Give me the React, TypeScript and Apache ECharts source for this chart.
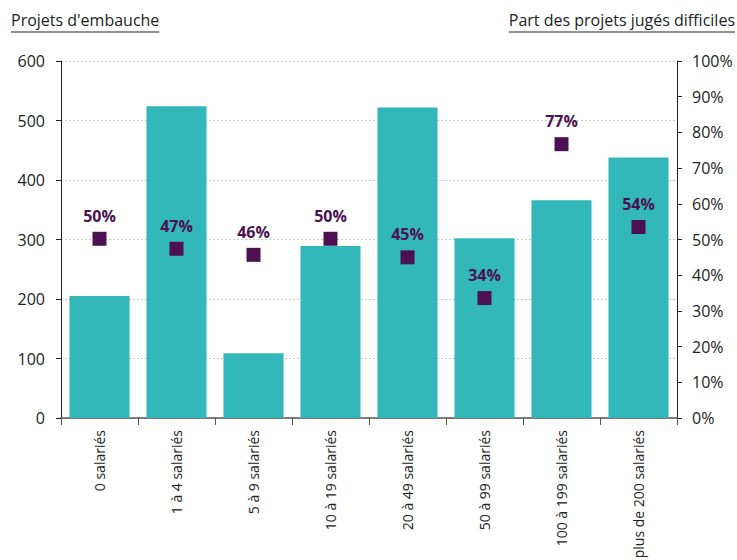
import React, { useEffect, useRef } from "react";
import * as echarts from "echarts";

const categories = [
  "0 salariés",
  "1 à 4 salariés",
  "5 à 9 salariés",
  "10 à 19 salariés",
  "20 à 49 salariés",
  "50 à 99 salariés",
  "100 à 199 salariés",
  "plus de 200 salariés",
];
const projets = [205, 524, 109, 289, 522, 302, 366, 438];
const partDifficiles = [50.2, 47.4, 45.7, 50.2, 45.0, 33.6, 76.7, 53.5];
const leftTitle = "Projets d'embauche";
const rightTitle = "Part des projets jugés difficiles";

const FONT = "'Open Sans', 'Noto Sans', sans-serif";

function measure(text: string, font: string): number {
  const c = document.createElement("canvas");
  const ctx = c.getContext("2d");
  if (!ctx) return text.length * 8;
  ctx.font = font;
  return ctx.measureText(text).width;
}

export default function App() {
  const ref = useRef<HTMLDivElement>(null);
  useEffect(() => {
    document.body.style.margin = "0";
    document.body.style.overflow = "hidden";
    if (!ref.current) return;
    const chart = echarts.init(ref.current, undefined, { renderer: "svg" });
    const titleSize = 16;
    const titleFont = `${titleSize}px ${FONT}`;
    const wl = measure(leftTitle, titleFont);
    const wr = measure(rightTitle, titleFont);
    const rightX = 735;
    const underlineY = 32;
    chart.setOption({
      animation: false,
      grid: {
        left: 61,
        right: 60,
        top: 61,
        bottom: 142,
        containLabel: false,
        outerBoundsMode: "none",
      },
      graphic: [
        {
          type: "text",
          x: 11,
          y: 12,
          style: { text: leftTitle, font: titleFont, fill: "#222", textAlign: "left", textVerticalAlign: "top" },
        },
        {
          type: "line",
          shape: { x1: 11, y1: underlineY, x2: 11 + wl, y2: underlineY },
          style: { stroke: "#222", lineWidth: 1 },
        },
        {
          type: "text",
          x: rightX - wr,
          y: 12,
          style: { text: rightTitle, font: titleFont, fill: "#222", textAlign: "left", textVerticalAlign: "top" },
        },
        {
          type: "line",
          shape: { x1: rightX - wr, y1: underlineY, x2: rightX, y2: underlineY },
          style: { stroke: "#222", lineWidth: 1 },
        },
      ],
      xAxis: {
        type: "category",
        data: categories,
        boundaryGap: true,
        axisLine: { lineStyle: { color: "#555", width: 1.5 } },
        axisTick: { show: true, length: 7, lineStyle: { color: "#555" } },
        axisLabel: {
          rotate: 90,
          interval: 0,
          margin: 12,
          fontSize: 14,
          color: "#222",
          fontFamily: FONT,
        },
      },
      yAxis: [
        {
          type: "value",
          min: 0,
          max: 600,
          interval: 100,
          axisLine: { show: true, lineStyle: { color: "#222" } },
          axisTick: { show: true, length: 5, lineStyle: { color: "#222" } },
          axisLabel: { fontSize: 16, color: "#222", margin: 16, fontFamily: FONT },
          splitLine: { show: true, lineStyle: { color: "#c8c8c8", type: [2, 2] } },
        },
        {
          type: "value",
          min: 0,
          max: 100,
          interval: 10,
          position: "right",
          axisLine: { show: true, lineStyle: { color: "#222" } },
          axisTick: { show: true, length: 5, lineStyle: { color: "#222" } },
          axisLabel: {
            fontSize: 16,
            color: "#222",
            margin: 15,
            fontFamily: FONT,
            formatter: "{value}%",
          },
          splitLine: { show: false },
        },
      ],
      series: [
        {
          type: "bar",
          data: projets,
          yAxisIndex: 0,
          barCategoryGap: "22%",
          itemStyle: { color: "#33b8b9" },
          z: 2,
        },
        {
          type: "scatter",
          data: partDifficiles,
          yAxisIndex: 1,
          symbol: "rect",
          symbolSize: 14,
          itemStyle: { color: "#4b1150", opacity: 1 },
          label: {
            show: true,
            position: "top",
            distance: 8,
            formatter: (p: any) => `${Math.round(p.value)}%`,
            fontSize: 16,
            fontWeight: "bold",
            color: "#4b1150",
            fontFamily: FONT,
          },
          z: 3,
        },
      ],
    });
    return () => chart.dispose();
  }, []);
  return <div ref={ref} style={{ width: 737, height: 560 }} />;
}
